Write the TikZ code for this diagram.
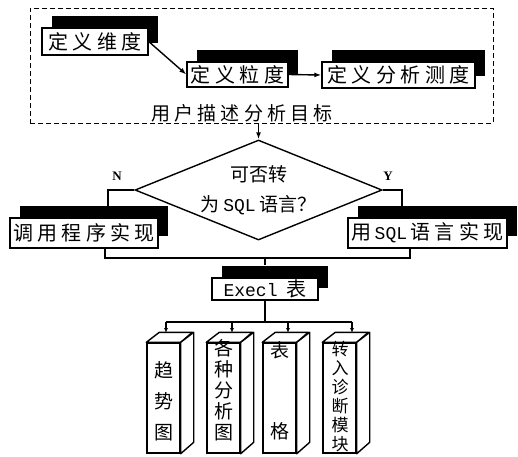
\documentclass[tikz,border=0pt]{standalone}
\usepackage{fontspec}
\setmainfont{Noto Sans CJK SC}
\newfontfamily\cjksp[LetterSpace=22]{Noto Sans CJK SC}
\newfontfamily\monof{Liberation Mono}
\newfontfamily\serf{Liberation Serif}
\usetikzlibrary{shapes.geometric,arrows.meta,shadows}
\begin{document}
\begin{tikzpicture}[x=1pt,y=-1pt,
  line width=1.4pt,
  sbox/.style={draw, fill=white, inner sep=0pt, line width=1.4pt,
    general shadow={fill=black, shadow xshift=10pt, shadow yshift=12pt},
    font=\cjksp\fontsize{20}{24}\selectfont},
  arr/.style={-{Latex[length=7pt,width=5pt]}},
  sarr/.style={-{Latex[length=5pt,width=4pt]}},
  col/.style={draw, fill=white, minimum width=33pt, minimum height=110pt, inner sep=0pt, line width=1.4pt},
  face/.style={line width=1.4pt, fill=white, line join=round},
  coltext/.style={align=center, inner sep=0pt},
]
\fill[white] (0,0) rectangle (518,456);
\useasboundingbox (0,0) rectangle (518,456);

% goal group
\node[draw, dash pattern=on 5pt off 3pt, line width=0.9pt, minimum width=463pt, minimum height=115pt] (gbox) at (261.5,65.5) {};
\node[sbox, minimum width=106pt, minimum height=27pt] (d1) at (95,41.5) {定义维度};
\node[sbox, minimum width=101pt, minimum height=25pt] (d2) at (237.5,74.5) {定义粒度};
\node[sbox, minimum width=153pt, minimum height=26pt] (d3) at (398.5,75) {定义分析测度};
\draw[arr] (d1.east) -- (d2.west);
\draw[arr] (d2.east) -- (d3.west);
\node[font=\cjksp\fontsize{19}{22}\selectfont] (goal) at (242,113) {用户描述分析目标};

% decision
\node[draw, diamond, minimum width=247pt, minimum height=100pt, inner sep=0pt, line width=1.4pt] (dia) at (258.5,190) {};
\node[align=center, font=\fontsize{19}{30}\selectfont] (q) at (dia.center) {可否转\\为 {\monof\fontsize{18}{20}\selectfont SQL} 语言？};
\draw[arr] (gbox.south -| dia.north) -- (dia.north);
\node[font=\serf\bfseries\fontsize{13}{13}\selectfont] (nlab) at (117,176) {N};
\node[font=\serf\bfseries\fontsize{13}{13}\selectfont] (ylab) at (388,176) {Y};

\node[sbox, minimum width=148pt, minimum height=30pt] (L) at (84,233) {调用程序实现};
\node[sbox, minimum width=159pt, minimum height=30pt] (R) at (427.5,233) {用\,{\monof\fontsize{18}{20}\selectfont SQL}\,语言实现};
\coordinate (nL) at (108,207);
\coordinate (nR) at (402,207);
\draw (dia.west) -| (nL);
\draw (dia.east) -| (nR);

% merge
\coordinate (mL) at (105,258);
\coordinate (mR) at (410,258);
\coordinate (mC) at (265,258);
\draw (L.south -| mL) -- (mL) -- (mR) -- (R.south -| mR);
\node[sbox, minimum width=106pt, minimum height=22pt] (E) at (265,289) {{\monof\fontsize{18}{20}\selectfont Execl} 表};
\draw (mC) -- ([yshift=12pt]E.north -| mC);

% outputs
\coordinate (bar) at (265,322);
\coordinate (t1) at (166,333);
\coordinate (t2) at (232,333);
\coordinate (t3) at (288,333);
\coordinate (t4) at (352,333);
\draw (E.south) -- (E.south |- bar);
\draw (t1 |- bar) -- (t4 |- bar);
\foreach \i in {1,...,4} \draw[sarr] (t\i |- bar) -- (t\i);

\foreach \x/\n in {147/1, 207/2, 263/3, 323/4} {
  \node[col] (c\n) at (\x+16.5, 398) {};
  \draw[face] (c\n.north west) -- ++(13,-10) -- ++(33,0) -- (c\n.north east) -- cycle;
  \draw[face] (c\n.north east) -- ++(13,-10) -- ++(0,110) -- (c\n.south east) -- cycle;
}
\node[coltext, font=\fontsize{19}{31}\selectfont] (x1) at (163.5,401) {趋\\势\\图};
\node[coltext, font=\fontsize{19}{21}\selectfont] (x2) at (223.5,390) {各\\种\\分\\析\\图};
\node[coltext, font=\fontsize{19}{81}\selectfont] (x3) at (279.5,391) {表\\格};
\node[coltext, font=\fontsize{17}{19}\selectfont] (x4) at (340,397) {转\\入\\诊\\断\\模\\块};
\end{tikzpicture}
\end{document}
